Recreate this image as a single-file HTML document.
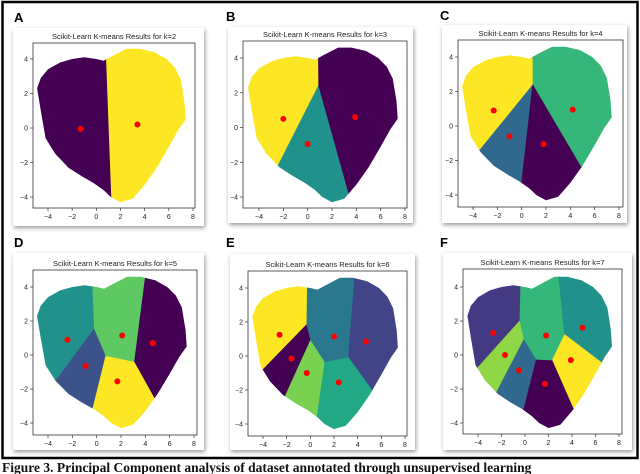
<!DOCTYPE html>
<html><head><meta charset="utf-8">
<style>
html,body{margin:0;padding:0;background:#fff;}
body{width:640px;height:474px;overflow:hidden;position:relative;font-family:"Liberation Sans",sans-serif;}
svg{position:absolute;left:0;top:0;overflow:hidden;}
</style></head>
<body>
<svg id="fig" width="640" height="474" viewBox="0 0 640 474" xmlns="http://www.w3.org/2000/svg">
<defs>
<filter id="sh" x="-10%" y="-10%" width="120%" height="120%"><feGaussianBlur stdDeviation="2"/></filter>
</defs>
<rect x="2.5" y="2" width="635" height="456" fill="none" stroke="#000" stroke-width="2.5"/>
<text x="2" y="472" font-family="Liberation Serif, serif" font-weight="bold" font-size="13.5" fill="#111">Figure 3. Principal Component analysis of dataset annotated through unsupervised learning</text>
</svg>
<script>
// cluster centroid data per panel (PC1, PC2)
const ks = [2,3,4,5,6,7];
const panelLabels = ["A","B","C","D","E","F"];
const cx2 = [-1.3, 3.4];            const cy2 = [-0.05, 0.2];
const cx3 = [-2.0, 0.0, 3.9];       const cy3 = [0.5, -0.95, 0.6];
const cx4 = [-2.3, -1.0, 1.8, 4.2]; const cy4 = [0.9, -0.6, -1.05, 0.95];
const cx5 = [-2.4, -0.9, 1.7, 2.1, 4.6]; const cy5 = [0.9, -0.65, -1.55, 1.15, 0.7];
const cx6 = [-2.6, -1.6, -0.3, 2.4, 2.0, 4.7]; const cy6 = [1.25, -0.15, -1.0, -1.55, 1.15, 0.85];
const cx7 = [-2.7, -1.7, -0.5, 1.7, 1.8, 4.9, 3.9]; const cy7 = [1.3, 0.0, -0.9, -1.7, 1.15, 1.6, -0.3];
const col2 = ["#440154","#fde725"];
const col3 = ["#fde725","#21918c","#440154"];
const col4 = ["#fde725","#31688e","#440154","#35b779"];
const col5 = ["#21918c","#3b528b","#fde725","#5ec962","#440154"];
const col6 = ["#fde725","#440154","#7ad151","#22a884","#2a788e","#414487"];
const col7 = ["#443983","#8fd744","#31688e","#440154","#35b779","#21918c","#fde725"];
const xTicks = [-4,-2,0,2,4,6,8];
const yTicks = [-4,-2,0,2,4];
// heart-shaped data envelope
const hullX = [-4.9,-4.6,-4.2,-3.4,-2.3,-1.2,-0.2,0.6,1.2,2.0,3.0,4.0,5.0,6.0,6.8,7.4,7.3,7.0,6.5,5.8,4.8,3.6,2.5,1.4,0.6,0.0,-1.0,-2.0,-3.0,-4.0,-4.6];
const hullY = [2.3,1.0,-0.6,-1.5,-2.3,-2.8,-3.2,-3.6,-4.0,-4.3,-4.1,-3.3,-2.3,-1.1,-0.1,0.5,1.5,2.8,3.5,4.0,4.4,4.6,4.6,4.2,3.9,4.0,4.1,4.0,3.8,3.4,2.9];

const CX=[cx2,cx3,cx4,cx5,cx6,cx7], CY=[cy2,cy3,cy4,cy5,cy6,cy7], COL=[col2,col3,col4,col5,col6,col7];
const L=[
 {x0:48,x1:193,y0:59,y1:197,bl:33,bt:43,br:195,bb:208,cl:13,ct:28,cr:204,cb:226,lx:14,ly:22},
 {x0:259,x1:405,y0:58,y1:197,bl:243,bt:41,br:407,bb:208,cl:228,ct:27,cr:413,cb:223,lx:226,ly:21},
 {x0:473,x1:619,y0:57,y1:195,bl:458,bt:40,br:623,bb:207,cl:442,ct:25,cr:627,cb:223,lx:440,ly:20},
 {x0:48,x1:194,y0:287,y1:423,bl:33,bt:270,br:197,bb:435,cl:13,ct:253,cr:204,cb:450,lx:14,ly:247},
 {x0:263,x1:405,y0:288,y1:424,bl:248,bt:271,br:407,bb:436,cl:230,ct:254,cr:415,cb:450,lx:226,ly:247},
 {x0:478,x1:619,y0:287,y1:423,bl:463,bt:269,br:622,bb:434,cl:443,ct:253,cr:632,cb:450,lx:440,ly:247}
];
const NS="http://www.w3.org/2000/svg";
const svg=document.getElementById('fig');
function mk(t,a,p){const e=document.createElementNS(NS,t);for(const k in a)e.setAttribute(k,a[k]);(p||svg).appendChild(e);return e;}
function clipHalf(poly,a,b,c){
  const out=[];for(let i=0;i<poly.length;i++){const P=poly[i],Q=poly[(i+1)%poly.length];
  const fp=a*P[0]+b*P[1]-c, fq=a*Q[0]+b*Q[1]-c;
  if(fp<=0)out.push(P);
  if((fp<0&&fq>0)||(fp>0&&fq<0)){const t=fp/(fp-fq);out.push([P[0]+t*(Q[0]-P[0]),P[1]+t*(Q[1]-P[1])]);}}
  return out;}
for(let p=0;p<6;p++){
  const g=L[p];
  const sx=v=>g.x0+(v+4)*(g.x1-g.x0)/12;
  const sy=v=>g.y0+(4-v)*(g.y1-g.y0)/8;
  const grp=mk('g',{});
  
  
  mk('rect',{x:g.cl+1,y:g.ct+2,width:g.cr-g.cl,height:g.cb-g.ct,fill:'#999',filter:'url(#sh)'},grp);
  const card=mk('rect',{x:g.cl,y:g.ct,width:g.cr-g.cl,height:g.cb-g.ct,fill:'#fff'},grp);
  
  
  const lab=mk('text',{x:g.lx,y:g.ly,'font-size':13,'font-weight':'bold',fill:'#000'},grp);
  lab.textContent=panelLabels[p];
  
  
  const tt=mk('text',{x:(g.bl+g.br)/2,y:g.bt-4,'font-size':7.5,'text-anchor':'middle',fill:'#222'},grp);
  tt.textContent='Scikit-Learn K-means Results for k='+ks[p];
  
  
  const cid='hc'+p;
  const cp=mk('clipPath',{id:cid},grp);
  const hp=hullX.map((x,i)=>sx(x).toFixed(1)+','+sy(hullY[i]).toFixed(1)).join(' ');
  mk('polygon',{points:hp},cp);
  const cg=mk('g',{'clip-path':'url(#'+cid+')'},grp);
  const xs=CX[p], ys=CY[p], cols=COL[p];
  for(let i=0;i<xs.length;i++){
    let poly=[[-10,-10],[12,-10],[12,10],[-10,10]];
    for(let j=0;j<xs.length;j++){ if(j===i)continue;
      const a=xs[j]-xs[i], b=ys[j]-ys[i];
      const c=(xs[j]*xs[j]+ys[j]*ys[j]-xs[i]*xs[i]-ys[i]*ys[i])/2;
      poly=clipHalf(poly,a,b,c);}
    const cell=mk('polygon',{points:poly.map(q=>sx(q[0]).toFixed(1)+','+sy(q[1]).toFixed(1)).join(' '),fill:cols[i],stroke:cols[i],'stroke-width':0.8},cg);
    
    
  }
  for(let i=0;i<xs.length;i++){
    const m=mk('circle',{cx:sx(xs[i]),cy:sy(ys[i]),r:3,fill:'#ff0000'},grp);
    
    
  }
  const box=mk('rect',{x:g.bl,y:g.bt,width:g.br-g.bl,height:g.bb-g.bt,fill:'none',stroke:'#333','stroke-width':0.8},grp);
  
  
  xTicks.forEach(t=>{
    mk('line',{x1:sx(t),x2:sx(t),y1:g.bb,y2:g.bb+3,stroke:'#333','stroke-width':0.7},grp);
    const tx=mk('text',{x:sx(t),y:g.bb+11,'font-size':7,'text-anchor':'middle',fill:'#222'},grp);
    tx.textContent=(t<0?'\u2212'+(-t):''+t);
    
    
  });
  yTicks.forEach(t=>{
    mk('line',{x1:g.bl-3,x2:g.bl,y1:sy(t),y2:sy(t),stroke:'#333','stroke-width':0.7},grp);
    const ty=mk('text',{x:g.bl-5,y:sy(t)+2.5,'font-size':7,'text-anchor':'end',fill:'#222'},grp);
    ty.textContent=(t<0?'\u2212'+(-t):''+t);
    
    
  });
}
</script>
</body></html>
